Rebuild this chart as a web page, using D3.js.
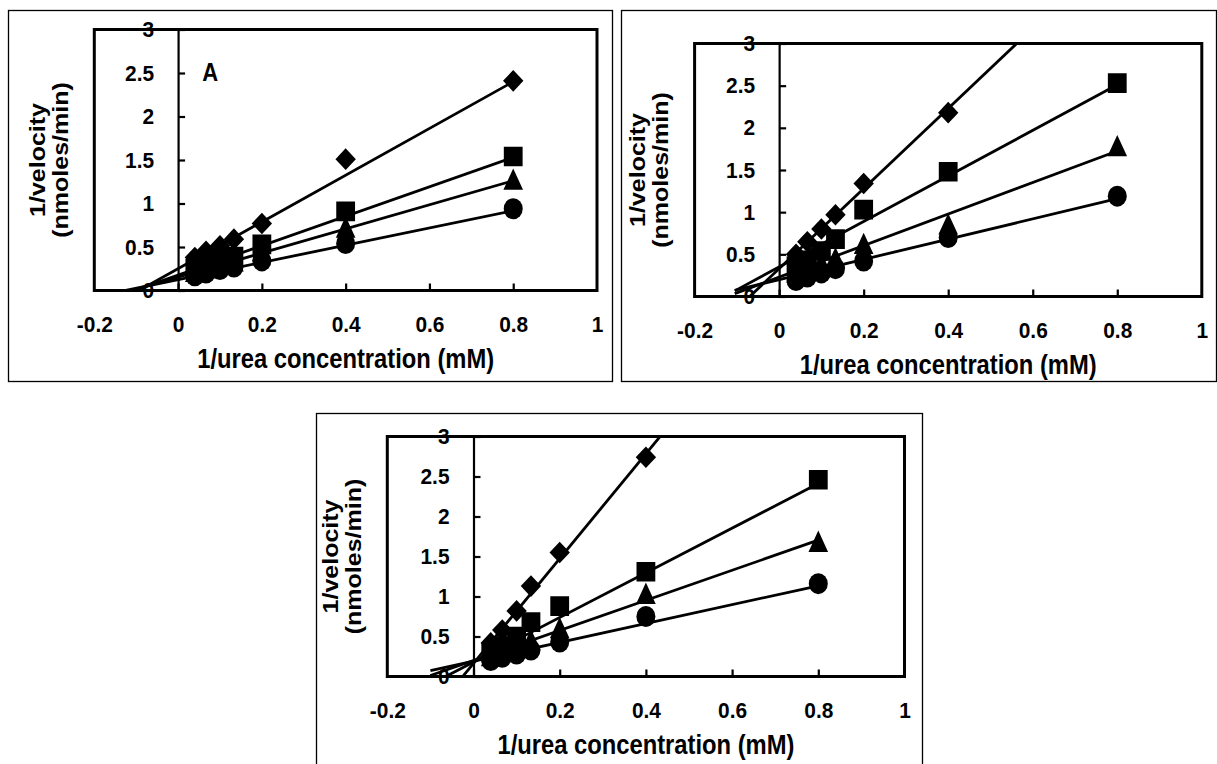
<!DOCTYPE html>
<html>
<head>
<meta charset="utf-8">
<script src="https://cdn.jsdelivr.net/npm/d3@7"></script>
<style>
  body { margin: 0; background: #fff; }
  text { font-family: "Liberation Sans", Arial, sans-serif; font-weight: bold; fill: #000; }
</style>
</head>
<body>
<svg id="chart"></svg>
<script>
// data ------------------------------------------------------------
const xValues = [0.04, 0.0667, 0.1, 0.1333, 0.2, 0.4, 0.8];
const xTicks = [-0.2, 0, 0.2, 0.4, 0.6, 0.8, 1];
const yTicks = [0, 0.5, 1, 1.5, 2, 2.5, 3];
const shapes = ["diamond", "square", "triangle", "circle"];

// 1/velocity for each series (diamond, square, triangle, circle)
const valuesA = [
  [0.38, 0.45, 0.515, 0.59, 0.77, 1.51, 2.41],
  [0.25, 0.29, 0.34, 0.39, 0.53, 0.91, 1.54],
  [0.21, 0.25, 0.29, 0.33, 0.45, 0.72, 1.27],
  [0.17, 0.20, 0.24, 0.27, 0.34, 0.54, 0.94]
];
const valuesB = [
  [0.50, 0.65, 0.80, 0.97, 1.34, 2.18, null],
  [0.36, 0.43, 0.54, 0.68, 1.03, 1.48, 2.53],
  [0.28, 0.33, 0.39, 0.45, 0.62, 0.85, 1.78],
  [0.19, 0.23, 0.28, 0.33, 0.42, 0.70, 1.19]
];
const valuesC = [
  [0.42, 0.58, 0.82, 1.13, 1.55, 2.74, null],
  [0.30, 0.38, 0.50, 0.68, 0.88, 1.31, 2.46],
  [0.25, 0.30, 0.38, 0.45, 0.60, 1.03, 1.68],
  [0.20, 0.24, 0.28, 0.33, 0.43, 0.75, 1.16]
];

// linear trend lines (slope, intercept) per series
const slopesA = [2.686, 1.691, 1.385, 0.991];
const interceptsA = [0.251, 0.177, 0.154, 0.124];
const slopesB = [4.75, 2.7, 1.87, 1.2];
const interceptsB = [0.33, 0.35, 0.23, 0.2];
const slopesC = [6.55, 2.79, 1.88, 1.18];
const interceptsC = [0.164, 0.18, 0.2, 0.19];

// layout ----------------------------------------------------------
const width = 1217, height = 764;
const squeeze = 0.88;     // titles in the original are a bit narrow
const tickSqueeze = 0.95;

const panels = [
  {id: "a", frame: [8, 10, 604, 371], box: {l: 94.3, r: 597, t: 29.5, b: 290.5},
   values: valuesA, slopes: slopesA, intercepts: interceptsA, lineStart: -0.125, tag: "A"},
  {id: "b", frame: [621, 10, 595, 371], box: {l: 694.6, r: 1201.8, t: 43.5, b: 296.5},
   values: valuesB, slopes: slopesB, intercepts: interceptsB, lineStart: -0.105, tag: null},
  {id: "c", frame: [316, 413, 606, 360], box: {l: 387.3, r: 904.5, t: 436.5, b: 676.5},
   values: valuesC, slopes: slopesC, intercepts: interceptsC, lineStart: -0.1, tag: null}
];

const svg = d3.select("#chart")
  .attr("width", width)
  .attr("height", height);

// marker shapes, drawn around (0,0)
function markerPath(shape) {
  const p = d3.path();
  if (shape === "diamond") {
    p.moveTo(0, -10.8); p.lineTo(10.2, 0); p.lineTo(0, 10.8); p.lineTo(-10.2, 0); p.closePath();
  } else if (shape === "square") {
    p.rect(-9.4, -9.8, 18.8, 19.6);
  } else if (shape === "triangle") {
    p.moveTo(0, -11.5); p.lineTo(9.8, 9.8); p.lineTo(-9.8, 9.8); p.closePath();
  }
  return p.toString();
}

panels.forEach(function(pn) {
  const box = pn.box;
  const g = svg.append("g").attr("class", "panel-" + pn.id);

  // outer frame
  g.append("rect")
    .attr("x", pn.frame[0] + 0.5).attr("y", pn.frame[1] + 0.5)
    .attr("width", pn.frame[2]).attr("height", pn.frame[3])
    .attr("fill", "none").attr("stroke", "#000").attr("stroke-width", 1.3);

  const x = d3.scaleLinear().domain([-0.2, 1]).range([box.l, box.r]);
  const y = d3.scaleLinear().domain([0, 3]).range([box.b, box.t]);

  g.append("clipPath").attr("id", "clip-" + pn.id)
    .append("rect")
      .attr("x", box.l).attr("y", box.t)
      .attr("width", box.r - box.l).attr("height", box.b - box.t);

  // trend lines
  const line = d3.line()
    .x(function(d) { return x(d[0]); })
    .y(function(d) { return y(d[1]); });

  const plot = g.append("g").attr("clip-path", "url(#clip-" + pn.id + ")");

  pn.slopes.forEach(function(s, i) {
    const b = pn.intercepts[i];
    const pts = [pn.lineStart, 0.8].map(function(xv) { return [xv, b + s * xv]; });
    plot.append("path")
      .datum(pts)
      .attr("fill", "none")
      .attr("stroke", "#000")
      .attr("stroke-width", 2.8)
      .attr("d", line);
  });

  // markers
  pn.values.forEach(function(vals, i) {
    const shape = shapes[i];
    const pts = vals.map(function(v, j) { return {x: xValues[j], y: v}; })
      .filter(function(d) { return d.y !== null; });
    if (shape === "circle") {
      plot.selectAll(".m" + i)
        .data(pts)
        .join("ellipse")
          .attr("cx", function(d) { return x(d.x); })
          .attr("cy", function(d) { return y(d.y); })
          .attr("rx", 9.5).attr("ry", 10.5)
          .attr("fill", "#000");
    } else {
      plot.selectAll(".m" + i)
        .data(pts)
        .join("path")
          .attr("d", markerPath(shape))
          .attr("transform", function(d) { return "translate(" + x(d.x) + "," + y(d.y) + ")"; })
          .attr("fill", "#000");
    }
  });

  // plot box
  g.append("rect")
    .attr("x", box.l).attr("y", box.t)
    .attr("width", box.r - box.l).attr("height", box.b - box.t)
    .attr("fill", "none").attr("stroke", "#000").attr("stroke-width", 3);

  // y axis line at x = 0, ticks pointing inward
  const yTickAxis = d3.axisRight(y).tickValues(yTicks).tickSize(7).tickFormat("");
  g.append("g")
    .attr("transform", "translate(" + x(0) + ",0)")
    .call(yTickAxis)
    .call(function(a) {
      a.select(".domain").attr("stroke-width", 2.2);
      a.selectAll(".tick line").attr("stroke-width", 2.2);
    });

  const yLabelAxis = d3.axisLeft(y).tickValues(yTicks).tickSize(0).tickPadding(24 / tickSqueeze)
    .tickFormat(d3.format(""));
  g.append("g")
    .attr("transform", "translate(" + x(0) + ",0)")
    .call(yLabelAxis)
    .call(function(a) {
      a.select(".domain").remove();
      a.selectAll("text").attr("font-size", 22).attr("font-family", null)
        .attr("transform", "scale(" + tickSqueeze + ",1)");
    });

  // x axis: ticks pointing up, labels below
  const xTickAxis = d3.axisTop(x).tickValues(xTicks.slice(1, -1)).tickSize(7).tickFormat("");
  g.append("g")
    .attr("transform", "translate(0," + box.b + ")")
    .call(xTickAxis)
    .call(function(a) {
      a.select(".domain").remove();
      a.selectAll(".tick line").attr("stroke-width", 2.2);
    });

  const xLabelAxis = d3.axisBottom(x).tickValues(xTicks).tickSize(0).tickPadding(26)
    .tickFormat(d3.format(""));
  g.append("g")
    .attr("transform", "translate(0," + box.b + ")")
    .call(xLabelAxis)
    .call(function(a) {
      a.select(".domain").remove();
      a.selectAll("text").attr("font-size", 22).attr("font-family", null)
        .attr("transform", "scale(" + tickSqueeze + ",1)")
        .text(function(d) { return d < 0 ? "-" + Math.abs(d) : d; });
    });

  // axis titles
  g.append("text")
    .attr("transform", "translate(" + ((box.l + box.r) / 2) + "," + (box.b + 77) + ") scale(" + squeeze + ",1)")
    .attr("text-anchor", "middle")
    .attr("font-size", 27)
    .text("1/urea concentration (mM)");

  const cy = (box.t + box.b) / 2;
  [["1/velocity", 57], ["(nmoles/min)", 34]].forEach(function(t) {
    g.append("text")
      .attr("transform", "translate(" + (box.l - t[1]) + "," + cy + ") rotate(-90) scale(1," + squeeze + ")")
      .attr("text-anchor", "middle")
      .attr("dy", "0.35em")
      .attr("font-size", 25)
      .text(t[0]);
  });

  if (pn.tag) {
    g.append("text")
      .attr("transform", "translate(" + (box.l + 116) + "," + (box.t + 51) + ") scale(" + squeeze + ",1)")
      .attr("text-anchor", "middle")
      .attr("font-size", 25)
      .text(pn.tag);
  }
});
</script>
</body>
</html>
